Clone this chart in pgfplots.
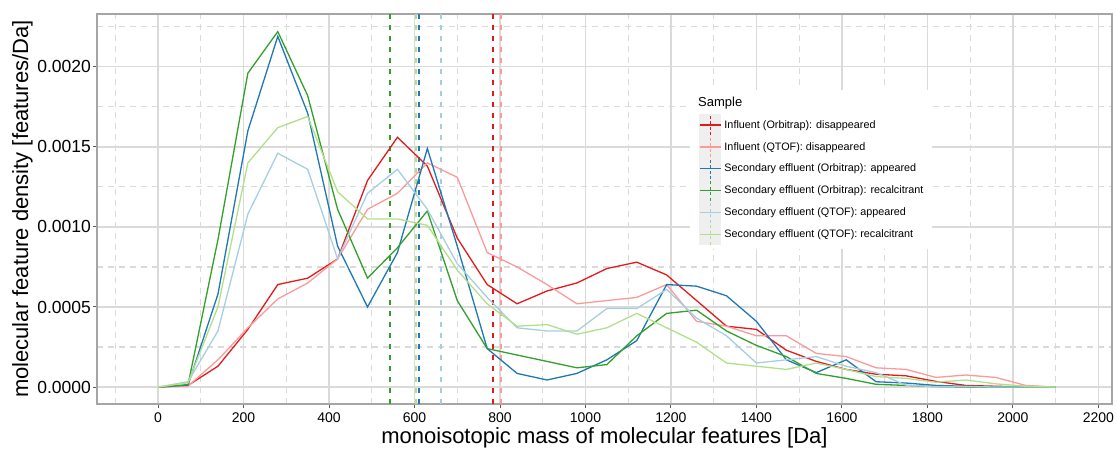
\documentclass[border=0pt]{standalone}
\usepackage{fontspec}
\setmainfont{Liberation Sans}
\usepackage{pgfplots}
\pgfplotsset{compat=1.18}
\usepackage{pgfplotstable}

\definecolor{cR}{HTML}{E31A1C}
\definecolor{cP}{HTML}{FB9A99}
\definecolor{cB}{HTML}{1F78B4}
\definecolor{cG}{HTML}{33A02C}
\definecolor{cLB}{HTML}{A6CEE3}
\definecolor{cLG}{HTML}{B2DF8A}
\definecolor{gridc}{HTML}{DADADA}
\definecolor{borderc}{HTML}{A5A5A5}
\definecolor{keybg}{HTML}{EFEFEF}

\pgfplotstableread{
x r p b g lb lg
0 0 0 0 0 0 0
70 0.00001 0.000006 0.000012 0.000015 0.000033 0.000027
140 0.00013 0.00017 0.00058 0.00092 0.00035 0.00050
210 0.00036 0.00037 0.00160 0.00196 0.00108 0.00140
280 0.00064 0.00055 0.00219 0.00222 0.00146 0.00162
350 0.00068 0.00065 0.00171 0.00182 0.00136 0.00169
420 0.00080 0.00080 0.00088 0.00111 0.00080 0.00122
490 0.00129 0.00111 0.00050 0.00068 0.00121 0.00105
560 0.00156 0.00121 0.00084 0.00087 0.00136 0.00105
630 0.00138 0.00140 0.00149 0.00110 0.00111 0.00101
700 0.00093 0.00131 0.00088 0.00054 0.00077 0.00073
770 0.00064 0.00084 0.00024 0.00024 0.00056 0.00052
840 0.00052 0.00075 0.000085 0.00020 0.00037 0.00038
910 0.00060 0.00064 0.000044 0.00016 0.00035 0.00039
980 0.00065 0.00052 0.000085 0.00012 0.00035 0.00033
1050 0.00074 0.00054 0.00017 0.00014 0.00049 0.00037
1120 0.00078 0.00056 0.00029 0.00032 0.00049 0.00046
1190 0.00070 0.00064 0.00064 0.00046 0.00061 0.00037
1260 0.00054 0.00041 0.00063 0.00048 0.00043 0.00028
1330 0.00038 0.00038 0.00057 0.00035 0.00032 0.00015
1400 0.00036 0.00032 0.00041 0.00026 0.00015 0.00013
1470 0.00023 0.00032 0.00017 0.00019 0.00017 0.00011
1540 0.00016 0.00021 0.00009 0.000085 0.00019 0.00015
1610 0.00011 0.00019 0.00017 0.000054 0.00013 0.00011
1680 0.00008 0.00012 0.000033 0.000017 0.00009 0.000065
1750 0.00007 0.00011 0.000025 0.00001 0.000012 0.000054
1820 0.000035 0.00006 0.00001 0.000003 0.000002 0.00003
1890 0.00001 0.000075 0.000005 0 0.000004 0.000044
1960 0.000005 0.00006 0 0 0 0.00002
2030 0 0.00001 0 0 0 0.000005
2100 0 0 0 0 0 0
}\data

\begin{document}
\begin{tikzpicture}
\begin{axis}[
  scale only axis, width=1015pt, height=390pt,
  xmin=-143, xmax=2232, ymin=-0.000106, ymax=0.00233,
  axis line style={draw=borderc, line width=2pt},
  xtick={0,200,400,600,800,1000,1200,1400,1600,1800,2000,2200},
  xticklabels={0,200,400,600,800,1000,1200,1400,1600,1800,2000,2200},
  ytick={0,0.0005,0.001,0.0015,0.002},
  yticklabels={0.0000,0.0005,0.0010,0.0015,0.0020},
  minor xtick={-100,100,300,500,700,900,1100,1300,1500,1700,1900,2100},
  minor ytick={0.00025,0.00075,0.00125,0.00175,0.00225},
  grid=both,
  major grid style={draw=gridc, line width=1.3pt},
  minor grid style={draw=gridc, line width=1.1pt, dash pattern=on 6pt off 5pt},
  tick align=outside, major tick length=4pt, minor tick length=0pt,
  tick style={draw=black!65, line width=1pt},
  xtick pos=left, ytick pos=left,
  scaled y ticks=false,
  xticklabel style={font=\fontsize{14}{16}\selectfont, inner sep=0pt, yshift=-5pt},
  yticklabel style={font=\fontsize{17.5}{20}\selectfont, inner sep=0pt, xshift=-2pt},
  xlabel={monoisotopic mass of molecular features [Da]},
  ylabel={molecular feature density [features/Da]},
  label style={font=\fontsize{22}{26}\selectfont},
  xlabel style={at={(axis description cs:0.5,-0.0872)}, anchor=center},
  ylabel style={at={(axis description cs:-0.0734,0.5)}, anchor=center},
  legend style={at={(axis description cs:0.5931,0.7436)}, anchor=north west,
    draw=none, fill=none, inner sep=0pt, outer sep=0pt, row sep=0pt, column sep=3pt,
    font=\fontsize{10.8}{12}\selectfont,
    nodes={inner sep=0pt, outer sep=0pt}},
  legend cell align=left,
  legend image code/.code={
    \fill[keybg] (0pt,-10.3pt) rectangle (21pt,10.3pt);
    \draw[#1, line width=1.5pt] (0pt,0pt) -- (21pt,0pt);
    \draw[#1, line width=0.9pt, dash pattern=on 3pt off 2.5pt] (10.5pt,-10.3pt) -- (10.5pt,10.3pt);
  },
]
% median lines
\addplot[cR, line width=1.5pt, dash pattern=on 5pt off 6pt, forget plot] coordinates {(784,-0.001) (784,0.00234)};
\addplot[cP, line width=1.5pt, dash pattern=on 5pt off 6pt, forget plot] coordinates {(802,-0.001) (802,0.00234)};
\addplot[cB, line width=1.5pt, dash pattern=on 5pt off 6pt, forget plot] coordinates {(611,-0.001) (611,0.00234)};
\addplot[cG, line width=1.5pt, dash pattern=on 5pt off 6pt, forget plot] coordinates {(543,-0.001) (543,0.00234)};
\addplot[cLB, line width=1.5pt, dash pattern=on 5pt off 6pt, forget plot] coordinates {(662,-0.001) (662,0.00234)};
\addplot[cLG, line width=1.5pt, dash pattern=on 5pt off 6pt, forget plot] coordinates {(603,-0.001) (603,0.00234)};

\addplot[cR, line width=1.3pt] table[x=x, y=r] {\data};
\addlegendentry{Influent (Orbitrap): disappeared}
\addplot[cP, line width=1.3pt] table[x=x, y=p] {\data};
\addlegendentry{Influent (QTOF): disappeared}
\addplot[cB, line width=1.3pt] table[x=x, y=b] {\data};
\addlegendentry{Secondary effluent (Orbitrap): appeared}
\addplot[cG, line width=1.3pt] table[x=x, y=g] {\data};
\addlegendentry{Secondary effluent (Orbitrap): recalcitrant}
\addplot[cLB, line width=1.3pt] table[x=x, y=lb] {\data};
\addlegendentry{Secondary effluent (QTOF): appeared}
\addplot[cLG, line width=1.3pt] table[x=x, y=lg] {\data};
\addlegendentry{Secondary effluent (QTOF): recalcitrant}

\fill[white] (axis description cs:0.5842,0.8051) rectangle (axis description cs:0.8227,0.3974);
\node[anchor=west, font=\fontsize{13}{15}\selectfont, inner sep=0pt] at (axis description cs:0.5921,0.7718) {Sample};
\end{axis}
\pgfresetboundingbox
\useasboundingbox (-97pt,-44pt) rectangle (1020pt,404pt);
\end{tikzpicture}
\end{document}
